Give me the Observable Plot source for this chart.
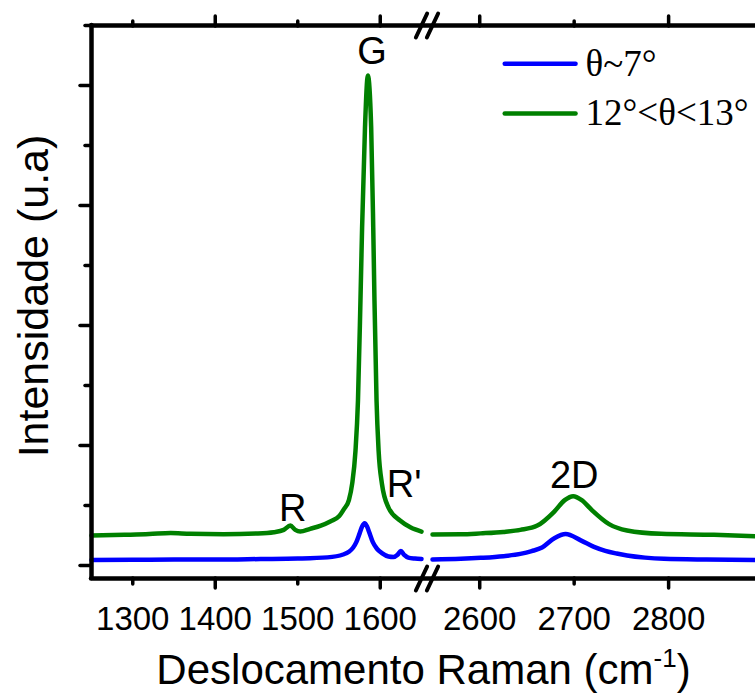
<!DOCTYPE html>
<html><head><meta charset="utf-8">
<script src="https://cdn.jsdelivr.net/npm/d3@7"></script>
<script src="https://cdn.jsdelivr.net/npm/@observablehq/plot@0.6"></script>
<style>
html,body{margin:0;padding:0;background:#fff;}
#chart svg line, #chart svg path {stroke-linecap: round; stroke-linejoin: round;}
</style></head><body><div id="chart"></div>
<script>
// ---- series ----
const seriesNames = ["θ~7°", "12°<θ<13°"];
const seriesColors = ["#0000ff", "#008000"];

// θ~7° (blue), low-wavenumber window
const blueLowX = [1250,1300,1350,1400,1455,1500,1536,1555,1562,1567,1571,1575,1578,1581,1584,1587,1591,1596,1602,1610,1616,1621,1625,1629,1634,1642,1650];
const blueLowY = [47,48,50,50,54,58,68,92,115,148,195,268,325,352,325,270,195,140,104,76,72,90,122,88,66,58,55];
// θ~7° (blue), high-wavenumber window
const blueHighX = [2550,2580,2601,2625,2643,2655,2666,2679,2691,2707,2721,2733,2745,2756,2775,2795,2840,2892];
const blueHighY = [50,56,64,78,97,120,150,228,262,210,155,122,100,84,66,56,50,47];
// 12°<θ<13° (green), low-wavenumber window
const greenLowX = [1250,1290,1320,1346,1370,1410,1450,1471,1483,1491,1497,1503,1515,1528,1540,1550,1556,1562,1566,1570,1573,1576,1578,1581.5,1585,1589,1591.5,1593,1595.5,1598,1602,1610,1624,1637,1650];
const greenLowY = [250,256,262,272,264,261,267,278,297,333,297,283,306,333,370,410,470,545,683,958,1375,2208,2817,3650,4083,3650,2817,2208,1375,958,683,483,375,317,283];
// 12°<θ<13° (green), high-wavenumber window
const greenHighX = [2550,2580,2601,2625,2643,2661,2679,2690,2699,2708,2719,2737,2756,2792,2848,2892];
const greenHighY = [258,260,268,280,297,333,450,545,578,545,460,345,292,264,256,244];

// ---- axes ----
const xBreakDomain = [1250, 1650, 2550, 2892];
const breakAt = [1650, 2550];
const yDomain = [-108, 4500];
const xMajorTicks = [1400, 1600, 2600, 2800];
const xMinorTicks = [1300, 1500, 2700];
const xTickLabels = [1300, 1400, 1500, 1600, 2600, 2700, 2800];
const yMajorTicks = [0, 1000, 2000, 3000, 4000];
const yMinorTicks = [500, 1500, 2500, 3500, 4500];
const xTitle = "Deslocamento Raman (cm-1)";
const yTitle = "Intensidade (u.a)";

// ---- peak annotations ----
const peakNames = ["R", "G", "R'", "2D"];
const peakLabelX = [1494, 1590, 1629, 2700];
const peakLabelY = [375, 4183, 567, 650];

// ---- legend ----
const legendX1 = 2627, legendX2 = 2702, legendTextX = 2712;
const legendY = [4181, 3767];

// build tables
function rows(xs, ys, series, seg) {
  return xs.map((x, i) => ({x, y: ys[i], series, key: series + seg}));
}
const data = [
  ...rows(blueLowX, blueLowY, seriesNames[0], "low"),
  ...rows(blueHighX, blueHighY, seriesNames[0], "high"),
  ...rows(greenLowX, greenLowY, seriesNames[1], "low"),
  ...rows(greenHighX, greenHighY, seriesNames[1], "high")
];
const peaks = peakNames.map((t, i) => ({t, x: peakLabelX[i], y: peakLabelY[i]}));
const legend = seriesNames.map((s, i) => ({s, y: legendY[i]}));
const breakMarks = breakAt.flatMap(x => [{x, y: yDomain[0]}, {x, y: yDomain[1]}]);

const slash = {
  draw(context, size) {
    const r = Math.sqrt(size / Math.PI);
    context.moveTo(-0.47 * r, r);
    context.lineTo(0.47 * r, -r);
  }
};

const sans = "'Liberation Sans', Arial, Helvetica, sans-serif";
const serif = "'Liberation Serif', 'Times New Roman', serif";
const AX = 4.5;

const plot = Plot.plot({
  width: 755,
  height: 693,
  marginLeft: 91,
  marginRight: 0,
  marginTop: 25,
  marginBottom: 115,
  style: {fontFamily: sans, background: "#fff", color: "#000", overflow: "visible"},
  x: {type: "linear", domain: xBreakDomain, range: [91, 421, 432, 755], label: null, axis: null},
  y: {domain: yDomain, label: null, axis: null},
  color: {domain: seriesNames, range: seriesColors},
  marks: [
    // data
    Plot.line(data, {x: "x", y: "y", z: "key", stroke: "series", strokeWidth: 4.5, curve: "monotone-x"}),
    // frame
    Plot.ruleX([xBreakDomain[0]], {stroke: "#000", strokeWidth: AX}),
    Plot.ruleY([yDomain[0], yDomain[1]], {stroke: "#000", strokeWidth: AX}),
    // ticks
    Plot.axisX(xMajorTicks, {anchor: "bottom", tickSize: 10, strokeWidth: 3.5, tickFormat: () => "", label: null}),
    Plot.axisX(xMinorTicks, {anchor: "bottom", tickSize: 6, strokeWidth: 3.5, tickFormat: () => "", label: null}),
    Plot.axisX(xMajorTicks, {anchor: "top", tickSize: 10, strokeWidth: 3.5, tickFormat: () => "", label: null}),
    Plot.axisX(xMinorTicks, {anchor: "top", tickSize: 5, strokeWidth: 3.5, tickFormat: () => "", label: null}),
    Plot.axisX(xTickLabels, {anchor: "bottom", tickSize: 0, tickPadding: 28, fontSize: 33, fill: "#000", label: null, tickFormat: d => String(d)}),
    Plot.axisY(yMajorTicks, {anchor: "left", tickSize: 11, strokeWidth: 3.5, tickFormat: () => "", label: null}),
    Plot.axisY(yMinorTicks, {anchor: "left", tickSize: 6, strokeWidth: 3.5, tickFormat: () => "", label: null}),
    // axis breaks
    Plot.dot(breakMarks, {x: "x", y: "y", r: 12, symbol: slash, stroke: "#000", strokeWidth: 4, fill: "none"}),
    // axis titles
    Plot.text([xTitle], {frameAnchor: "bottom", dy: 105, lineAnchor: "bottom", fontSize: 42, fill: "#000"}),
    Plot.text([yTitle], {frameAnchor: "left", textAnchor: "middle", rotate: -90, dx: -44, dy: -6, lineAnchor: "bottom", fontSize: 43, fill: "#000"}),
    // peak labels
    Plot.text(peaks, {x: "x", y: "y", text: "t", lineAnchor: "bottom", fontSize: 38, fill: "#000"}),
    // legend
    Plot.ruleY(legend, {y: "y", x1: legendX1, x2: legendX2, stroke: "s", strokeWidth: 4.5}),
    Plot.text(legend, {x: legendTextX, y: "y", text: "s", textAnchor: "start", lineAnchor: "middle", fontSize: 37, fontFamily: serif, fill: "#000"})
  ]
});

document.getElementById("chart").appendChild(plot);

// superscript in x title
d3.select(plot).selectAll("text").filter(function() { return this.textContent === xTitle; })
  .each(function() {
    const t = d3.select(this);
    t.text("");
    t.append("tspan").text("Deslocamento Raman (cm");
    t.append("tspan").attr("dy", "-17").attr("font-size", "26").text("-1");
    t.append("tspan").attr("dy", "17").text(")");
  });
</script></body></html>
